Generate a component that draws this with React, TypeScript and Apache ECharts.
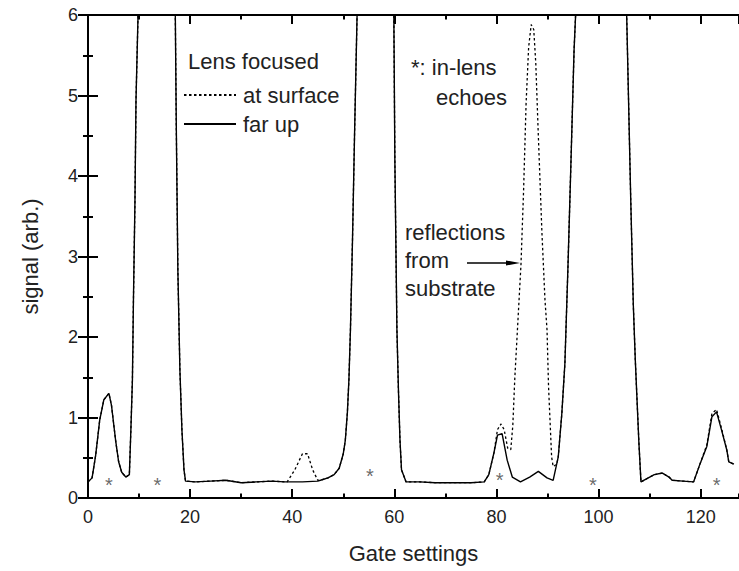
import React, { useEffect, useRef } from "react";
import * as echarts from "echarts";

// ---------- data ----------
const xMax = 127.5;
const yMax = 6;

// solid line: lens focused far up
const farUpX = [
  0, 0.8, 1.5, 2.3, 3.1, 4.1, 4.6, 5.4, 6.0, 6.6, 7.4, 8.1, 8.4, 8.7, 8.9, 9.2, 9.4, 9.8, 10.5, 13, 16.8,
  17.1, 17.3, 17.6, 18.0, 18.4, 18.8, 19.1, 21, 24, 27, 30, 33, 36, 38.5, 42, 45, 46, 47, 48.2, 49.2,
  50.0, 50.4, 50.8, 51.1, 51.4, 51.8, 52.2, 52.7, 53.3, 56, 59.3, 59.9, 60.1, 60.5, 60.8, 61.1, 61.4,
  62.3, 65, 68, 72, 75, 77.6, 78.5, 79.5, 80.2, 81.1, 82.1, 83.1, 84.7, 86.5, 88.2, 89.9, 91.1, 92.1,
  92.8, 93.4, 94.0, 94.6, 95.2, 95.5, 96.2, 100, 104.8, 105.5, 106.3, 106.8, 107.2, 107.5, 107.9,
  108.3, 110.9, 112.5, 113.8, 114.4, 116.5, 118.6, 119.9, 121.2, 122.2, 123.1, 124.1, 125.1, 125.5,
  126.5,
];
const farUpY = [
  0.2, 0.25, 0.53, 0.97, 1.22, 1.3, 1.15, 0.72, 0.45, 0.32, 0.26, 0.29, 0.85, 1.47, 2.46, 3.7, 4.94, 6.0, 8, 14, 8,
  6.0, 4.57, 2.83, 1.59, 0.84, 0.35, 0.21, 0.2, 0.21, 0.22, 0.19, 0.2, 0.21, 0.2, 0.2, 0.21, 0.23, 0.25, 0.29, 0.37,
  0.55, 0.72, 1.06, 1.47, 2.09, 3.2, 4.5, 6.0, 8, 14, 8, 6.0, 4.2, 2.1, 1.34, 0.72, 0.35,
  0.2, 0.2, 0.19, 0.19, 0.19, 0.2, 0.29, 0.56, 0.78, 0.8, 0.47, 0.26, 0.2, 0.26, 0.33, 0.25, 0.22, 0.51,
  1.05, 1.67, 2.87, 4.2, 5.57, 6.0, 8, 14, 8, 6.0, 3.7, 2.4, 1.7, 1.26, 0.68,
  0.2, 0.29, 0.31, 0.26, 0.22, 0.21, 0.2, 0.43, 0.64, 1.01, 1.07, 0.84, 0.6, 0.45,
  0.42,
];

// dotted line: lens focused at surface
const atSurfaceX = [
  0, 0.8, 1.5, 2.3, 3.1, 4.1, 4.6, 5.4, 6.0, 6.6, 7.4, 8.1, 8.4, 8.7, 8.9, 9.2, 9.4, 9.8, 10.5, 13, 16.8,
  17.1, 17.3, 17.6, 18.0, 18.4, 18.8, 19.1, 21, 24, 27, 30, 33, 36, 39, 40.5, 42, 43, 44, 45, 46, 47,
  48.2, 49.2, 50.0, 50.4, 50.8, 51.1, 51.4, 51.8, 52.2, 52.7, 53.3, 56, 59.3, 59.9, 60.1, 60.5, 60.8,
  61.1, 61.4, 62.3, 65, 68, 72, 75, 77.6, 78.5, 79.5, 80.2, 80.9, 81.5, 82.2, 82.8, 83.2, 83.6, 84.2,
  84.8, 85.3, 85.8, 86.3, 86.8, 87.3, 87.7, 88.2, 88.9, 89.5, 89.9, 90.2, 90.8, 91.1, 91.8, 92.1, 92.8,
  93.4, 94.0, 94.6, 95.2, 95.5, 96.2, 100, 104.8, 105.5, 106.3, 106.8, 107.2, 107.5, 107.9, 108.3,
  110.9, 112.5, 113.8, 114.4, 116.5, 118.6, 119.9, 121.2, 122.2, 123.1, 124.1, 125.1, 125.5, 126.5,
];
const atSurfaceY = [
  0.2, 0.25, 0.53, 0.97, 1.22, 1.3, 1.15, 0.72, 0.45, 0.32, 0.26, 0.29, 0.85, 1.47, 2.46, 3.7, 4.94, 6.0, 8, 14, 8,
  6.0, 4.57, 2.83, 1.59, 0.84, 0.35, 0.21, 0.2, 0.21, 0.22, 0.19, 0.2, 0.21, 0.2, 0.35, 0.55, 0.55, 0.35, 0.22, 0.23, 0.25,
  0.29, 0.37, 0.55, 0.72, 1.06, 1.47, 2.09, 3.2, 4.5, 6.0, 8, 14, 8, 6.0, 4.2, 2.1, 1.34,
  0.72, 0.35, 0.2, 0.2, 0.19, 0.19, 0.19, 0.2, 0.29, 0.56, 0.85, 0.92, 0.85, 0.62, 0.6, 0.9, 1.5, 2.2,
  2.9, 3.8, 4.9, 5.6, 5.88, 5.82, 5.4, 4.5, 3.3, 2.46, 2.09, 1.38, 0.51, 0.39, 0.42, 0.51, 1.05,
  1.67, 2.87, 4.2, 5.57, 6.0, 8, 14, 8, 6.0, 3.7, 2.4, 1.7, 1.26, 0.68, 0.2,
  0.29, 0.31, 0.26, 0.22, 0.21, 0.2, 0.43, 0.66, 1.05, 1.1, 0.86, 0.6, 0.45, 0.42,
];

// "*" markers: in-lens echoes
const echoX = [4.1, 13.6, 55.2, 80.6, 98.9, 123.1];
const echoY = [0.22, 0.22, 0.33, 0.29, 0.22, 0.22];

const seriesNames = ["at surface", "far up"];
const legendTitle = "Lens focused";
const echoNote = ["*: in-lens", "echoes"];
const reflectionNote = ["reflections", "from", "substrate"];
const xName = "Gate settings";
const yName = "signal (arb.)";

const FONT = "Liberation Sans, Arial, sans-serif";
const TXT = "#222";

const zip = (xs: number[], ys: number[]) => xs.map((x, i) => [x, ys[i]]);

export default function App() {
  const ref = useRef<HTMLDivElement>(null);
  useEffect(() => {
    if (!ref.current) return;
    const chart = echarts.init(ref.current, undefined, { renderer: "svg" });
    const axisLine = { show: true, lineStyle: { color: "#000", width: 2 } };
    const baseX = { type: "value", min: 0, max: xMax, splitLine: { show: false } };
    const textEl = (text: string, x: number, y: number) => ({
      type: "text",
      x,
      y,
      silent: true,
      style: { text, fill: TXT, fontSize: 22, fontFamily: FONT, verticalAlign: "middle", textAlign: "left" },
    });
    chart.setOption({
      animation: false,
      backgroundColor: "#fff",
      grid: { left: 88, right: -7, top: 15, bottom: 73, containLabel: false },
      xAxis: [
        {
          ...baseX,
          position: "bottom",
          interval: 20,
          axisLine,
          axisTick: { inside: true, length: 9, lineStyle: { color: "#000", width: 2 } },
          axisLabel: { show: true, showMaxLabel: false, margin: 10, fontSize: 18, fontFamily: FONT, color: TXT },
          name: xName,
          nameLocation: "middle",
          nameGap: 44,
          nameTextStyle: { fontSize: 22, fontFamily: FONT, color: TXT },
        },
        {
          ...baseX,
          position: "bottom",
          interval: 10,
          axisLine: { show: false },
          axisTick: { inside: true, length: 4.5, lineStyle: { color: "#000", width: 2 } },
          axisLabel: { show: false },
        },
        {
          ...baseX,
          position: "top",
          interval: 20,
          axisLine,
          axisTick: { inside: true, length: 9, lineStyle: { color: "#000", width: 2 } },
          axisLabel: { show: false },
        },
        {
          ...baseX,
          position: "top",
          interval: 10,
          axisLine: { show: false },
          axisTick: { inside: true, length: 4.5, lineStyle: { color: "#000", width: 2 } },
          axisLabel: { show: false },
        },
      ],
      yAxis: [
        {
          type: "value",
          min: 0,
          max: yMax,
          interval: 1,
          position: "left",
          splitLine: { show: false },
          axisLine,
          axisTick: { inside: true, length: 10, lineStyle: { color: "#000", width: 2 } },
          minorTick: { show: true, splitNumber: 2, length: 5, lineStyle: { color: "#000", width: 2 } },
          axisLabel: { margin: 10, fontSize: 18, fontFamily: FONT, color: TXT },
          name: yName,
          nameLocation: "middle",
          nameRotate: 90,
          nameGap: 47,
          nameTextStyle: { fontSize: 22, fontFamily: FONT, color: TXT },
        },
        {
          type: "value",
          min: 0,
          max: yMax,
          interval: 1,
          position: "right",
          splitLine: { show: false },
          axisLine,
          axisTick: { inside: true, length: 10, lineStyle: { color: "#000", width: 2 } },
          minorTick: { show: true, splitNumber: 2, length: 5, lineStyle: { color: "#000", width: 2 } },
          axisLabel: { show: false },
        },
      ],
      legend: {
        data: seriesNames,
        orient: "vertical",
        left: 183,
        top: 84,
        padding: 0,
        itemWidth: 52,
        itemHeight: 14,
        itemGap: 7,
        itemStyle: { opacity: 0 },
        textStyle: { fontSize: 22, lineHeight: 22, fontFamily: FONT, color: TXT, padding: [0, 0, 0, 2] },
        selectedMode: false,
      },
      series: [
        {
          name: seriesNames[0],
          type: "line",
          data: zip(atSurfaceX, atSurfaceY),
          symbol: "none",
          clip: true,
          lineStyle: { color: "#000", width: 1.3, type: [2.5, 2.5] },
          itemStyle: { color: "#000" },
          z: 3,
        },
        {
          name: seriesNames[1],
          type: "line",
          data: zip(farUpX, farUpY),
          symbol: "none",
          clip: true,
          lineStyle: { color: "#000", width: 1.4, type: "solid" },
          itemStyle: { color: "#000" },
          z: 2,
        },
        {
          name: "echoes",
          type: "scatter",
          data: zip(echoX, echoY),
          symbolSize: 0.1,
          itemStyle: { color: "rgba(0,0,0,0)" },
          label: {
            show: true,
            position: "inside",
            formatter: "*",
            fontSize: 20,
            fontFamily: FONT,
            color: "#444",
            offset: [0, 5],
          },
          silent: true,
        },
      ],
      graphic: [
        textEl(legendTitle, 188, 61),
        textEl(echoNote[0], 411, 67),
        textEl(echoNote[1], 436, 97),
        textEl(reflectionNote[0], 405, 232),
        textEl(reflectionNote[1], 405, 260),
        textEl(reflectionNote[2], 405, 288),
        {
          type: "line",
          silent: true,
          shape: { x1: 467, y1: 263, x2: 508, y2: 263 },
          style: { stroke: "#000", lineWidth: 1.3 },
        },
        {
          type: "polygon",
          silent: true,
          shape: { points: [[506, 260.5], [520, 263], [506, 265.5]] },
          style: { fill: "#000" },
        },
      ],
    });
    return () => chart.dispose();
  }, []);
  return (
    <div
      ref={ref}
      style={{ position: "absolute", left: 0, top: 0, width: 739, height: 571, background: "#fff" }}
    />
  );
}
